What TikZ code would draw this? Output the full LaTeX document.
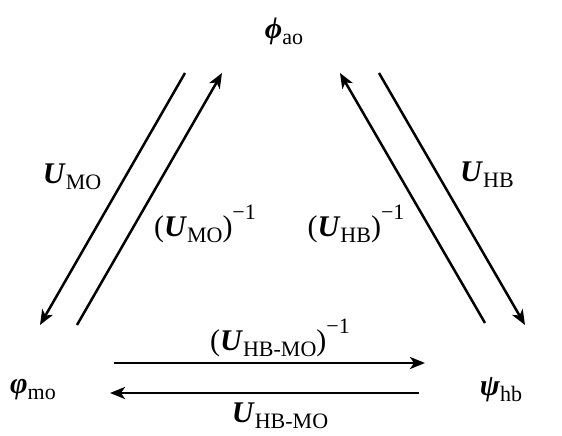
\documentclass[tikz,border=0pt]{standalone}
\usepackage{fontspec}
\setmainfont{Liberation Serif}
\usetikzlibrary{arrows.meta}
\newcommand{\bi}[1]{\textbf{\textit{#1}}}
\newcommand{\lo}[1]{\raisebox{-.2em}{\fontsize{22}{22}\selectfont #1}}
\newcommand{\inv}{\raisebox{.55em}{\fontsize{22}{22}\selectfont −1}}

\begin{document}
\begin{tikzpicture}[x=1pt,y=-1pt,line width=2.5pt,
  map/.style={-{Stealth[length=15pt,width=12pt,inset=4pt]}},
  lbl/.style={inner sep=0pt,font=\fontsize{30}{35}\selectfont}]
\path[use as bounding box] (0,0) rectangle (562,436);
% the three bases
\node[lbl] (ao) at (284,31) {\bi{ϕ}\lo{ao}};
\node[lbl] (mo) at (33,390) {\bi{φ}\lo{mo}};
\node[lbl] (hb) at (501,390) {\bi{ψ}\lo{hb}};
% arrow ends
\coordinate (mo1) at (185,73);  \coordinate (mo2) at (40,325);
\coordinate (mo3) at (77,325);  \coordinate (mo4) at (222,73);
\coordinate (hb1) at (379,73);  \coordinate (hb2) at (525,325);
\coordinate (hb3) at (485,323); \coordinate (hb4) at (340,73);
\coordinate (hm1) at (114,363); \coordinate (hm2) at (425,363);
\coordinate (hm3) at (419,393); \coordinate (hm4) at (110,393);
\draw[map] (mo1) -- (mo2);
\draw[map] (mo3) -- (mo4);
\draw[map] (hb1) -- (hb2);
\draw[map] (hb3) -- (hb4);
\draw[map] (hm1) -- (hm2);
\draw[map] (hm3) -- (hm4);
% labels
\node[lbl] (lmo) at (72,177) {\bi{U}\lo{MO}};
\node[lbl] (lmoi) at (205,224) {(\bi{U}\lo{MO})\inv};
\node[lbl] (lhb) at (487,175) {\bi{U}\lo{HB}};
\node[lbl] (lhbi) at (356,224) {(\bi{U}\lo{HB})\inv};
\node[lbl] (lhmi) at (280,338) {(\bi{U}\lo{HB-MO})\inv};
\node[lbl] (lhm) at (280,416) {\bi{U}\lo{HB-MO}};
\end{tikzpicture}
\end{document}
